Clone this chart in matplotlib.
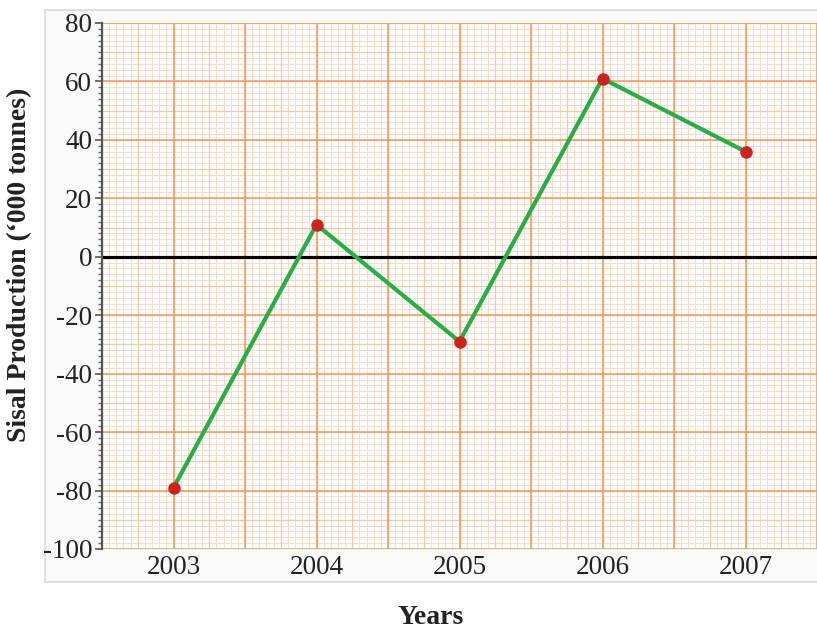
import matplotlib
matplotlib.use("Agg")
import matplotlib.pyplot as plt
from matplotlib.patches import Rectangle
import numpy as np

years = [2003, 2004, 2005, 2006, 2007]
production = [-79, 11, -29, 61, 36]
y_ticks = [80, 60, 40, 20, 0, -20, -40, -60, -80, -100]
x_labels = ["2003", "2004", "2005", "2006", "2007"]

plt.rcParams["font.family"] = ["Liberation Serif", "DejaVu Serif"]

fig = plt.figure(figsize=(8.17, 6.29), dpi=100)
fig.patch.set_facecolor("white")

# light panel behind the plotting area
panel = Rectangle((45 / 817, 1 - 582 / 629), 1.0, (582 - 10) / 629,
                  transform=fig.transFigure, facecolor="#fafafa",
                  edgecolor="#d9d9d9", linewidth=1.2, zorder=-5)
fig.patches.append(panel)

ax = fig.add_axes([102 / 817, 1 - 549 / 629, 1 - 102 / 817, (549 - 23) / 629])
ax.set_zorder(1)
ax.set_facecolor("white")
ax.set_xlim(2002.5, 2007.5)
ax.set_ylim(-100, 80)

# graph-paper grid: fine, medium and major rulings
fine_x = np.arange(2002.5, 2007.5001, 0.05)
mid_x = np.arange(2002.5, 2007.5001, 0.25)
major_x = np.arange(2002.5, 2007.5001, 0.5)
fine_y = np.arange(-100, 80.001, 2)
mid_y = np.arange(-100, 80.001, 10)
major_y = np.arange(-100, 80.001, 20)
for v in fine_x:
    ax.axvline(v, color="#fcdcc8", lw=0.75, zorder=0.5)
for v in fine_y:
    ax.axhline(v, color="#fcdcc8", lw=0.75, zorder=0.5)
for v in mid_x:
    ax.axvline(v, color="#fac6a6", lw=0.9, zorder=0.6)
for v in mid_y:
    ax.axhline(v, color="#fac6a6", lw=0.9, zorder=0.6)
for v in major_x:
    ax.axvline(v, color="#f59a5e", lw=1.1, zorder=0.7)
for v in major_y:
    ax.axhline(v, color="#f59a5e", lw=1.1, zorder=0.7)

# zero line
ax.axhline(0, color="black", lw=2.3, zorder=2)

# data
ax.plot(years, production, color="#27ae48", lw=3.0, zorder=3,
        solid_capstyle="round")
ax.plot(years, production, linestyle="none", marker="o", markersize=8,
        markerfacecolor="#cc2222", markeredgecolor="#cc2222", zorder=4)

# axes styling
for side in ["top", "right", "bottom"]:
    ax.spines[side].set_visible(False)
ax.spines["left"].set_color("#555555")
ax.spines["left"].set_linewidth(1.6)

ax.set_yticks(y_ticks)
ax.set_yticklabels([str(t) for t in y_ticks], fontsize=19.5, color="#222222")
ax.set_yticks(np.arange(-100, 80.001, 2), minor=True)
ax.tick_params(axis="y", which="major", length=5, width=1.2, color="#555555", pad=2)
ax.tick_params(axis="y", which="minor", length=2.8, width=1.0, color="#666666")

ax.set_xticks(years)
ax.set_xticklabels(x_labels, fontsize=19.5, color="#222222")
ax.tick_params(axis="x", which="both", length=0, pad=4)

fig.text(20 / 817, 1 - 265 / 629, "Sisal Production (‘000 tonnes)", rotation=90,
         ha="center", va="center", fontsize=20, fontweight="bold", color="#222222")
fig.text(431 / 817, 1 - 617 / 629, "Years", ha="center", va="center",
         fontsize=20, fontweight="bold", color="#222222")

fig.savefig("out.png", dpi=100)
